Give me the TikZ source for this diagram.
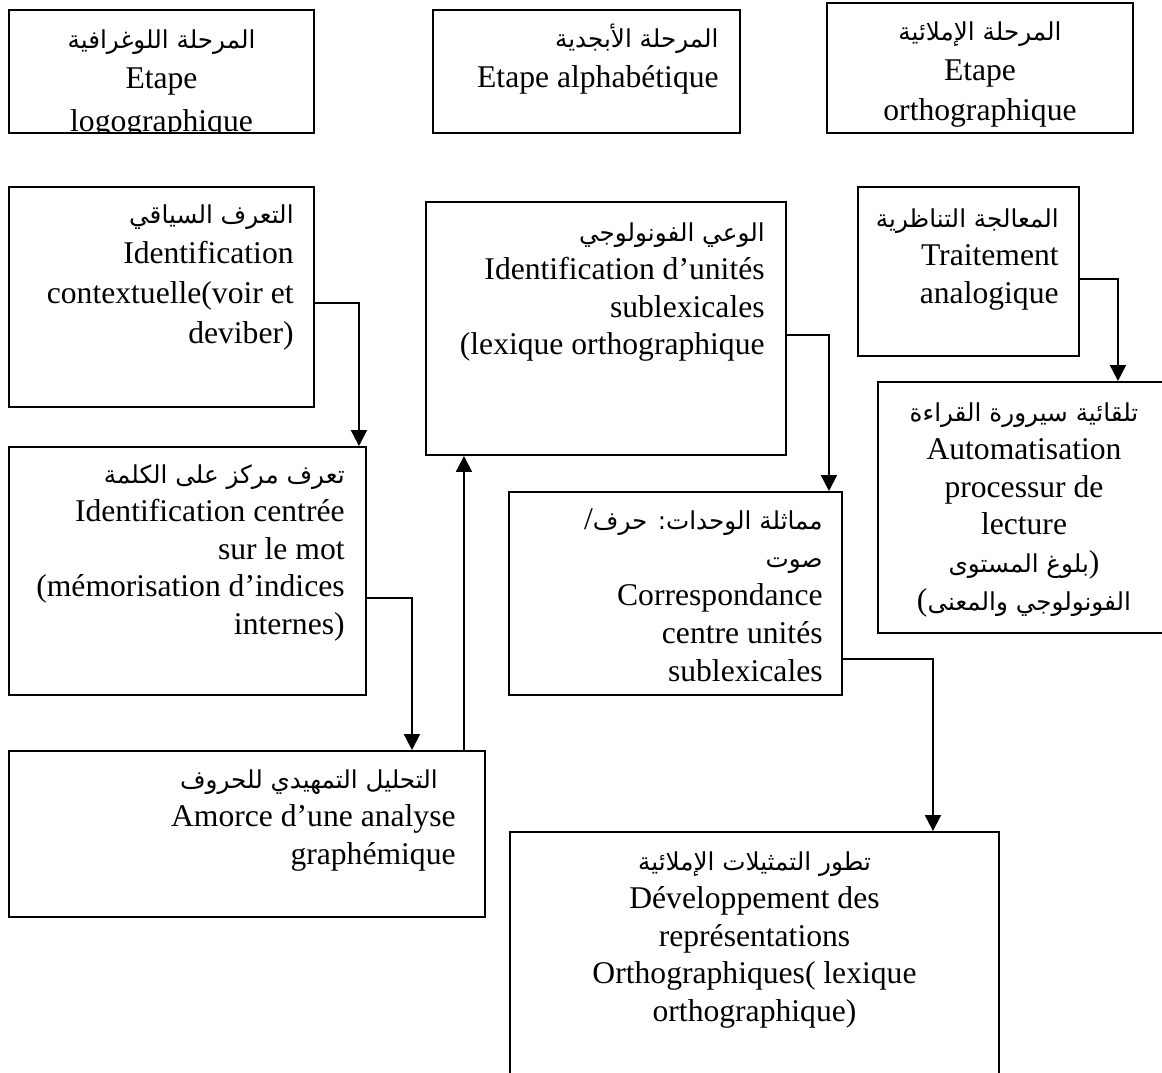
\documentclass[tikz,border=0pt]{standalone}
\usepackage{fontspec}
\setmainfont{Liberation Serif}
\newfontfamily\arabicfont[Script=Arabic,Scale=0.78]{DejaVu Sans}
\TeXXeTstate=1
\usetikzlibrary{arrows.meta, fit}
\newcommand{\artxt}[1]{{\arabicfont\beginR #1\endR}}

\begin{document}
\begin{tikzpicture}[x=0.02cm, y=-0.02cm,
    box/.style={draw, line width=1.1pt, inner sep=0pt},
    txt/.style={inner sep=0pt, font=\fontsize{18}{21.6}\selectfont},
    toptxt/.style={txt, font=\fontsize{18}{22.8}\selectfont},
    conn/.style={line width=1.1pt, -{Triangle[width=9pt,length=9pt]}}]
  \useasboundingbox (0,0) rectangle (1162,1072);

  % Stages
  \node[box, fit={(9,10) (314,133)}] (logo) {};
  \node[box, fit={(433,10) (740,133)}] (alpha) {};
  \node[box, fit={(827,3) (1133,133)}] (ortho) {};
  \begin{scope}
    \clip (logo.north west) rectangle (logo.south east);
    \node[toptxt, align=center, anchor=north] (logot) at ([shift={(0,20)}]logo.north)
      {\artxt{المرحلة اللوغرافية}\\Etape\\[0.06cm]logographique};
  \end{scope}
  \node[toptxt, align=right, anchor=north east] (alphat) at ([shift={(-22,15)}]alpha.north east)
    {\artxt{المرحلة الأبجدية}\\Etape alphabétique};
  \node[toptxt, align=center, anchor=north] (orthot) at ([shift={(0,19)}]ortho.north)
    {\artxt{المرحلة الإملائية}\\Etape\\orthographique};

  % Boxes
  \node[box, fit={(9,187) (314,407)}] (ctx) {};
  \node[box, fit={(426,202) (786,455)}] (phon) {};
  \node[box, fit={(858,187) (1079,356)}] (analog) {};
  \node[box, fit={(878,382) (1170,633)}] (auto) {};
  \node[box, fit={(9,447) (366,695)}] (word) {};
  \node[box, fit={(509,492) (842,695)}] (units) {};
  \node[box, fit={(9,751) (485,917)}] (grapho) {};
  \node[box, fit={(510,832) (999,1085)}] (repres) {};

  % Texts
  \node[toptxt, align=right, anchor=north east] (ctxt) at ([shift={(-21,18)}]ctx.north east)
    {\artxt{التعرف السياقي}\\Identification\\contextuelle(voir et\\deviber)};
  \node[txt, align=right, anchor=north east] (phont) at ([shift={(-22,21)}]phon.north east)
    {\artxt{الوعي الفونولوجي}\\Identification d’unités\\sublexicales\\(lexique orthographique};
  \node[txt, align=right, anchor=north east] (analogt) at ([shift={(-21,22)}]analog.north east)
    {\artxt{المعالجة التناظرية}\\Traitement\\analogique};
  \node[txt, align=center, anchor=north] (autot) at ([shift={(0,21)}]auto.north)
    {\artxt{تلقائية سيرورة القراءة}\\Automatisation\\processur de\\lecture\\
     \artxt{بلوغ المستوى})\\(\artxt{الفونولوجي والمعنى}};
  \node[txt, align=right, anchor=north east] (wordt) at ([shift={(-22,18)}]word.north east)
    {\artxt{تعرف مركز على الكلمة}\\Identification centrée\\sur le mot\\(mémorisation d’indices\\internes)};
  \node[txt, align=right, anchor=north east] (unitst) at ([shift={(-20,17)}]units.north east)
    {/\artxt{مماثلة الوحدات: حرف}\\\artxt{صوت}\\Correspondance\\centre unités\\sublexicales};
  \node[txt, align=right, anchor=north east] (graphot) at ([shift={(-30,19)}]grapho.north east)
    {\artxt{التحليل التمهيدي للحروف}\hspace*{0.36cm}\\Amorce d’une analyse\\graphémique};
  \node[txt, align=center, anchor=north] (represt) at ([shift={(0,20)}]repres.north)
    {\artxt{تطور التمثيلات الإملائية}\\Développement des\\représentations\\Orthographiques( lexique\\orthographique)};

  % Arrows
  \draw[conn] ([shift={(0,6)}]ctx.east) -| ([shift={(-8,0)}]word.north east);
  \draw[conn] ([shift={(0,6.5)}]phon.east) -| ([shift={(-14,0)}]units.north east);
  \draw[conn] ([shift={(0,7.5)}]analog.east) -| ([shift={(-53,0)}]auto.north east);
  \draw[conn] ([shift={(0,27)}]word.east) -| ([shift={(-74,0)}]grapho.north east);
  \draw[conn] ([shift={(-22,0)}]grapho.north east) -- ([shift={(-22,0)}]grapho.north east |- phon.south);
  \draw[conn] ([shift={(0,65.5)}]units.east) -| ([shift={(-67,0)}]repres.north east);
\end{tikzpicture}
\end{document}
